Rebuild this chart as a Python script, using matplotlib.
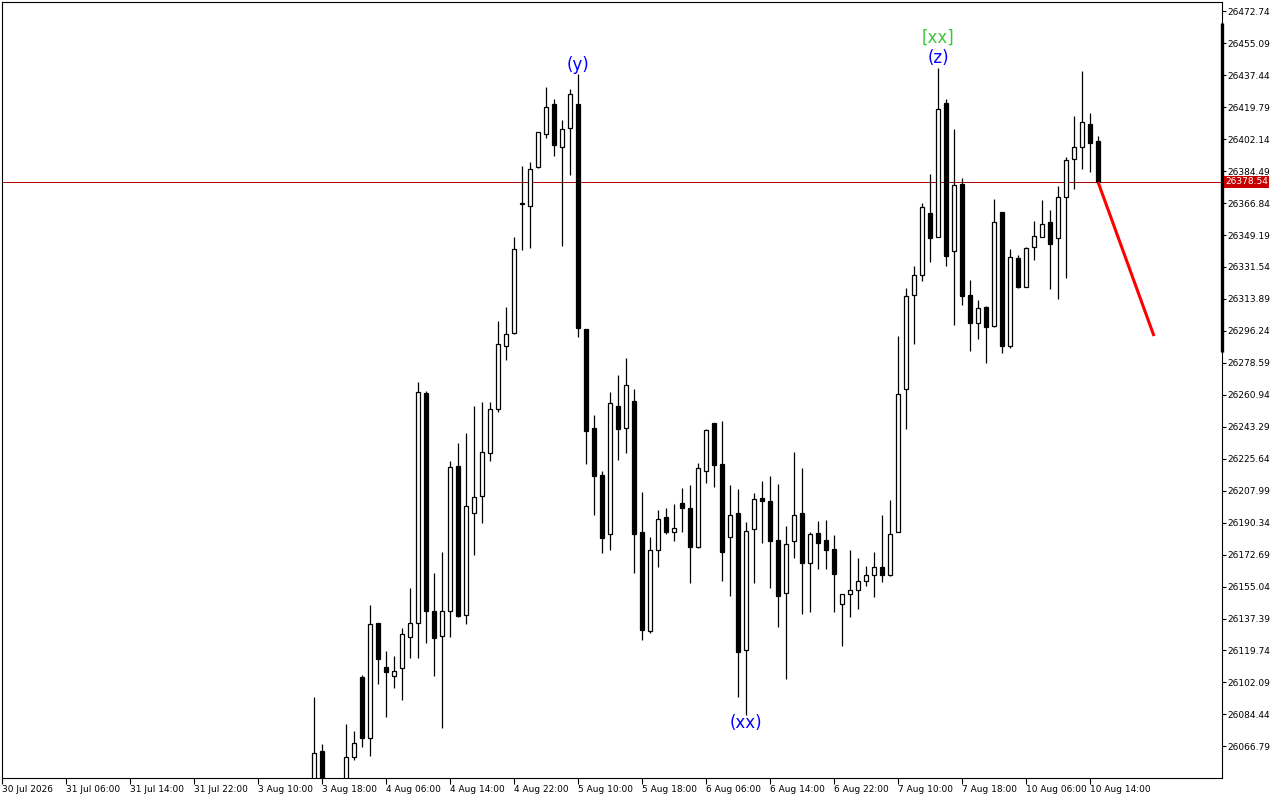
import matplotlib
matplotlib.use("Agg")
import matplotlib.pyplot as plt
import matplotlib.transforms as mtransforms
import numpy as np

# Hourly bars, index 0 = 30 Jul 2026 on the chart's bar axis
FIRST_BAR = 39

opens = [26035.0, 26064.2, 26040.0, 26028.0, 26042.0, 26060.7, 26105.1, 26071.5, 26134.7, 26110.6,
         26105.8, 26110.2, 26127.3, 26135.0, 26261.8, 26141.5, 26127.9, 26141.3, 26221.7, 26139.4,
         26195.4, 26205.0, 26228.7, 26253.1, 26287.8, 26294.9, 26366.5, 26365.5, 26386.6, 26405.2,
         26421.8, 26397.8, 26408.1, 26421.8, 26297.4, 26242.4, 26216.5, 26184.3, 26255.0, 26242.4,
         26257.3, 26184.9, 26130.6, 26175.4, 26193.2, 26184.9, 26201.4, 26198.3, 26176.7, 26219.0,
         26245.3, 26222.7, 26182.2, 26195.5, 26119.8, 26186.6, 26203.9, 26202.3, 26180.7, 26151.3,
         26180.0, 26195.5, 26167.9, 26184.4, 26180.6, 26175.6, 26145.2, 26151.1, 26153.3, 26158.3,
         26161.6, 26165.8, 26161.6, 26185.4, 26263.9, 26316.3, 26327.2, 26361.4, 26348.1, 26422.1,
         26340.5, 26377.6, 26316.3, 26300.4, 26309.3, 26299.1, 26361.7, 26288.0, 26336.3, 26320.6,
         26342.4, 26348.2, 26356.2, 26347.4, 26370.0, 26391.0, 26398.0, 26410.3, 26401.1]
highs = [26093.8, 26068.1, 26047.0, 26045.0, 26079.1, 26075.2, 26106.2, 26144.8, 26135.0, 26119.4,
         26116.7, 26132.1, 26154.0, 26267.8, 26263.0, 26162.5, 26174.4, 26224.4, 26234.4, 26239.9,
         26254.7, 26256.7, 26256.7, 26301.7, 26309.4, 26348.1, 26387.1, 26389.5, 26406.1, 26430.8,
         26424.1, 26412.7, 26429.6, 26438.1, 26297.5, 26249.8, 26219.0, 26262.5, 26271.8, 26281.1,
         26263.9, 26207.2, 26182.2, 26197.5, 26198.7, 26200.8, 26209.7, 26211.3, 26223.1, 26242.0,
         26245.4, 26246.5, 26211.1, 26208.7, 26190.5, 26206.5, 26213.3, 26216.1, 26211.7, 26188.5,
         26229.3, 26220.3, 26185.0, 26191.1, 26191.8, 26183.5, 26151.2, 26175.5, 26170.8, 26166.4,
         26174.0, 26194.3, 26203.0, 26293.4, 26320.2, 26332.2, 26367.1, 26383.0, 26441.3, 26424.5,
         26407.9, 26380.9, 26324.2, 26313.3, 26310.0, 26369.1, 26361.8, 26341.5, 26338.1, 26342.4,
         26356.9, 26368.5, 26363.0, 26376.3, 26392.3, 26414.9, 26439.8, 26416.7, 26403.9]
lows = [26020.0, 26025.0, 26018.0, 26015.0, 26035.0, 26059.2, 26066.6, 26061.4, 26101.2, 26083.1,
        26099.1, 26092.4, 26115.7, 26115.7, 26124.0, 26105.8, 26076.9, 26127.4, 26138.2, 26134.2,
        26172.2, 26190.1, 26224.4, 26251.4, 26280.1, 26294.8, 26340.9, 26342.1, 26386.4, 26402.6,
        26393.0, 26343.3, 26382.3, 26292.7, 26222.5, 26194.8, 26173.5, 26175.5, 26224.8, 26228.9,
        26162.7, 26125.3, 26129.4, 26165.8, 26183.8, 26180.1, 26184.9, 26157.2, 26176.6, 26212.4,
        26210.2, 26158.2, 26150.0, 26094.2, 26084.1, 26157.1, 26179.2, 26154.4, 26132.8, 26103.8,
        26171.0, 26139.7, 26140.8, 26164.9, 26164.9, 26141.2, 26122.1, 26138.0, 26142.4, 26155.5,
        26149.0, 26157.7, 26161.0, 26185.3, 26242.1, 26289.0, 26323.9, 26334.4, 26348.0, 26332.0,
        26299.5, 26310.7, 26285.3, 26291.6, 26278.7, 26298.5, 26284.2, 26286.6, 26319.8, 26320.5,
        26335.4, 26348.1, 26319.4, 26313.8, 26325.6, 26374.8, 26385.5, 26384.1, 26378.5]
closes = [26062.9, 26040.0, 26028.0, 26040.0, 26060.7, 26068.4, 26071.5, 26134.2, 26115.2, 26108.0,
          26108.2, 26128.6, 26134.7, 26262.3, 26141.7, 26126.8, 26141.3, 26221.3, 26138.9, 26199.7,
          26204.5, 26229.6, 26253.1, 26289.0, 26294.7, 26341.3, 26366.9, 26385.4, 26406.0, 26420.1,
          26398.8, 26407.9, 26427.2, 26297.8, 26241.2, 26215.9, 26181.8, 26256.2, 26241.8, 26266.2,
          26184.0, 26131.0, 26175.5, 26192.5, 26184.9, 26187.6, 26198.3, 26176.9, 26220.3, 26241.3,
          26222.3, 26174.3, 26194.4, 26119.0, 26185.5, 26203.2, 26202.4, 26180.3, 26150.0, 26178.4,
          26194.4, 26167.9, 26183.9, 26178.9, 26175.0, 26161.8, 26151.1, 26153.3, 26158.3, 26161.6,
          26166.0, 26161.6, 26184.3, 26261.5, 26315.6, 26327.2, 26364.7, 26347.5, 26418.8, 26337.4,
          26376.9, 26315.5, 26300.7, 26308.7, 26298.5, 26356.2, 26288.0, 26336.9, 26320.3, 26341.8,
          26348.5, 26355.1, 26344.1, 26370.0, 26390.4, 26397.6, 26411.4, 26400.2, 26378.54]

current_price = 26378.54
forecast_bars = [137, 144]
forecast_prices = [26378.54, 26293.4]

price_ticks = [26472.74, 26455.09, 26437.44, 26419.79, 26402.14, 26384.49, 26366.84, 26349.19,
               26331.54, 26313.89, 26296.24, 26278.59, 26260.94, 26243.29, 26225.64, 26207.99,
               26190.34, 26172.69, 26155.04, 26137.39, 26119.74, 26102.09, 26084.44, 26066.79]
time_labels = ["30 Jul 2026", "31 Jul 06:00", "31 Jul 14:00", "31 Jul 22:00", "3 Aug 10:00",
               "3 Aug 18:00", "4 Aug 06:00", "4 Aug 14:00", "4 Aug 22:00", "5 Aug 10:00",
               "5 Aug 18:00", "6 Aug 06:00", "6 Aug 14:00", "6 Aug 22:00", "7 Aug 10:00",
               "7 Aug 18:00", "10 Aug 06:00", "10 Aug 14:00"]

# wave labels: (bar, price, text, colour)
wave_labels = [(72, 26443.1, "(y)", "#0000ff"),
               (93, 26079.7, "(xx)", "#0000ff"),
               (117, 26446.9, "(z)", "#0000ff"),
               (117, 26458.0, "[xx]", "#3cc83c")]

fig = plt.figure(figsize=(12.8, 8), dpi=100)
ax = fig.add_axes([2 / 1280, 22 / 800, 1220 / 1280, 776 / 800])

o = np.array(opens)
h = np.array(highs)
l = np.array(lows)
c = np.array(closes)
x = np.arange(FIRST_BAR, FIRST_BAR + len(o))
up = c >= o

# wicks then bodies
ax.vlines(x, l, h, color="black", linewidth=0.9, zorder=2)
body_bottom = np.minimum(o, c)
body_height = np.maximum(np.abs(c - o), 0.3)
ax.bar(x[up], body_height[up], bottom=body_bottom[up], width=0.6,
       facecolor="white", edgecolor="black", linewidth=0.9, zorder=3)
ax.bar(x[~up], body_height[~up], bottom=body_bottom[~up], width=0.6,
       facecolor="black", edgecolor="black", linewidth=0.9, zorder=3)

# current price line and forecast
ax.axhline(current_price, color="#b40000", linewidth=0.7, zorder=1)
ax.plot(forecast_bars, forecast_prices, color="#ff0000", linewidth=2.2, zorder=4,
        solid_capstyle="butt")

for bx, py, txt, col in wave_labels:
    ax.text(bx, py, txt, color=col, fontsize=12, ha="center", va="center", zorder=5)

ax.set_xlim(0, 152.5)
ax.set_ylim(26049.3, 26477.9)

# axes styling like the trading terminal
for s in ax.spines.values():
    s.set_color("black")
    s.set_linewidth(0.8)

ax.yaxis.tick_right()
ax.set_yticks(price_ticks)
ax.set_yticklabels([f"{v:.2f}" for v in price_ticks])
ax.tick_params(axis="y", direction="out", length=3, width=0.8, pad=1, labelsize=6.5)

ax.set_xticks(np.arange(0, 8 * len(time_labels), 8))
ax.set_xticklabels(time_labels, ha="left")
ax.tick_params(axis="x", direction="out", length=4, width=0.8, pad=1, labelsize=6.5)

# current price tag on the scale
trans = mtransforms.blended_transform_factory(ax.transAxes, ax.transData)
ax.text(1.0025, current_price, f"{current_price:.2f}", transform=trans, ha="left", va="center",
        color="white", fontsize=6.5, zorder=6, clip_on=False,
        bbox=dict(boxstyle="square,pad=0.15", facecolor="#c80000", edgecolor="none"))

# thick marker on the price scale
ax.plot([1.0, 1.0], [(778 - 352) / 776, (778 - 23) / 776], transform=ax.transAxes,
        color="black", linewidth=2.4, clip_on=False, solid_capstyle="butt")

fig.savefig("out.png", dpi=100)
